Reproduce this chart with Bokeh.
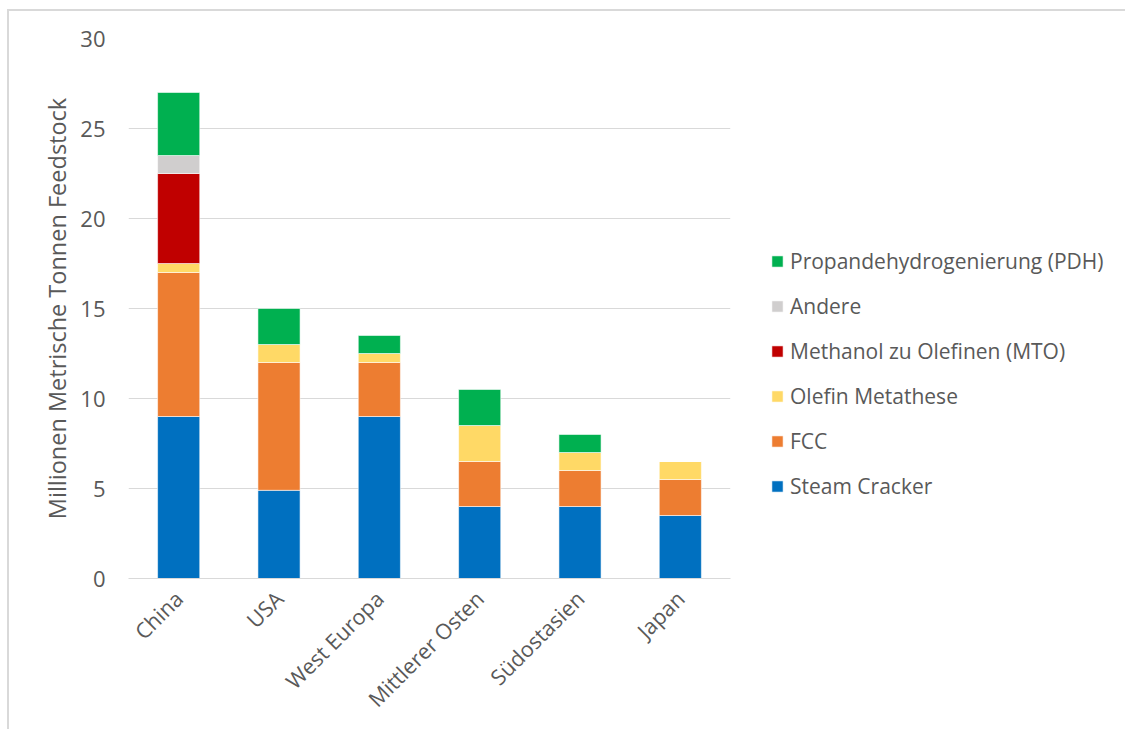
import math
from bokeh.plotting import figure
from bokeh.models import (ColumnDataSource, FactorRange, Range1d, FixedTicker,
                          Legend, LegendItem)
from bokeh.embed import file_html
from bokeh.resources import INLINE

# Regions and propylene capacity by production route (million metric tonnes feedstock)
regions = ["China", "USA", "West Europa", "Mittlerer Osten", "Südostasien", "Japan"]
steam_cracker = [9.0, 4.9, 9.0, 4.0, 4.0, 3.5]
fcc = [8.0, 7.1, 3.0, 2.5, 2.0, 2.0]
olefin_metathese = [0.5, 1.0, 0.5, 2.0, 1.0, 1.0]
mto = [5.0, 0.0, 0.0, 0.0, 0.0, 0.0]
andere = [1.0, 0.0, 0.0, 0.0, 0.0, 0.0]
pdh = [3.5, 2.0, 1.0, 2.0, 1.0, 0.0]

series_keys = ["sc", "fcc", "om", "mto", "andere", "pdh"]
series_names = ["Steam Cracker", "FCC", "Olefin Metathese",
                "Methanol zu Olefinen (MTO)", "Andere",
                "Propandehydrogenierung (PDH)"]
series_colors = ["#0070C0", "#ED7D31", "#FFD966", "#C00000", "#D0CECE", "#00B050"]
y_ticks = [0, 5, 10, 15, 20, 25, 30]

source = ColumnDataSource(data=dict(
    region=regions, sc=steam_cracker, fcc=fcc, om=olefin_metathese,
    mto=mto, andere=andere, pdh=pdh))

FONT = "Open Sans"
TEXT = "#595959"
GRID = "#D9D9D9"

# the chart sits inside a light frame drawn on its top and left edges
p = figure(frame_width=602, frame_height=540,
           x_range=FactorRange(*regions, range_padding=0),
           y_range=Range1d(0, 30), output_backend="svg", toolbar_location=None,
           min_border_left=119, min_border_right=395, min_border_top=27,
           min_border_bottom=151)
p.margin = (9, 0, 0, 7)
p.styles = {"border-top": f"2px solid {GRID}", "border-left": f"2px solid {GRID}"}
p.outline_line_color = None
p.background_fill_color = "white"
p.border_fill_color = "white"

renderers = p.vbar_stack(series_keys, x="region", width=0.42, color=series_colors,
                         source=source, line_color="white", line_width=0.8,
                         line_alpha=0.7)

# y axis
p.yaxis.ticker = FixedTicker(ticks=y_ticks)
p.yaxis.axis_line_color = None
p.yaxis.major_tick_line_color = None
p.yaxis.major_tick_out = 0
p.yaxis.major_tick_in = 0
p.yaxis.minor_tick_line_color = None
p.yaxis.major_label_text_font = FONT
p.yaxis.major_label_text_font_size = "22px"
p.yaxis.major_label_text_color = TEXT
p.yaxis.major_label_standoff = 23
p.yaxis.axis_label = "Millionen Metrische Tonnen Feedstock"
p.yaxis.axis_label_text_font = FONT
p.yaxis.axis_label_text_font_size = "23.5px"
p.yaxis.axis_label_text_font_style = "normal"
p.yaxis.axis_label_text_color = TEXT
p.yaxis.axis_label_standoff = 4

# x axis
p.xaxis.axis_line_color = GRID
p.xaxis.axis_line_width = 1
p.xaxis.major_tick_line_color = None
p.xaxis.major_tick_out = 0
p.xaxis.major_tick_in = 0
p.xaxis.minor_tick_line_color = None
p.xaxis.major_label_orientation = math.pi / 4
p.xaxis.major_label_text_font = FONT
p.xaxis.major_label_text_font_size = "21.5px"
p.xaxis.major_label_text_color = TEXT
p.xaxis.major_label_standoff = 16

p.xgrid.grid_line_color = None
p.ygrid.grid_line_color = GRID
p.ygrid.grid_line_width = 1

# legend, top entry is the top of the stack
items = [LegendItem(label=name, renderers=[r])
         for name, r in zip(series_names, renderers)][::-1]
legend = Legend(items=items, location=(40, 77), orientation="vertical",
                glyph_width=14, glyph_height=14, label_height=30,
                label_standoff=6, spacing=15, padding=0, margin=0,
                border_line_color=None, background_fill_alpha=0,
                label_text_font=FONT, label_text_font_size="21px",
                label_text_color=TEXT)
p.add_layout(legend, "right")

open("out.html", "w").write(file_html(p, INLINE))
